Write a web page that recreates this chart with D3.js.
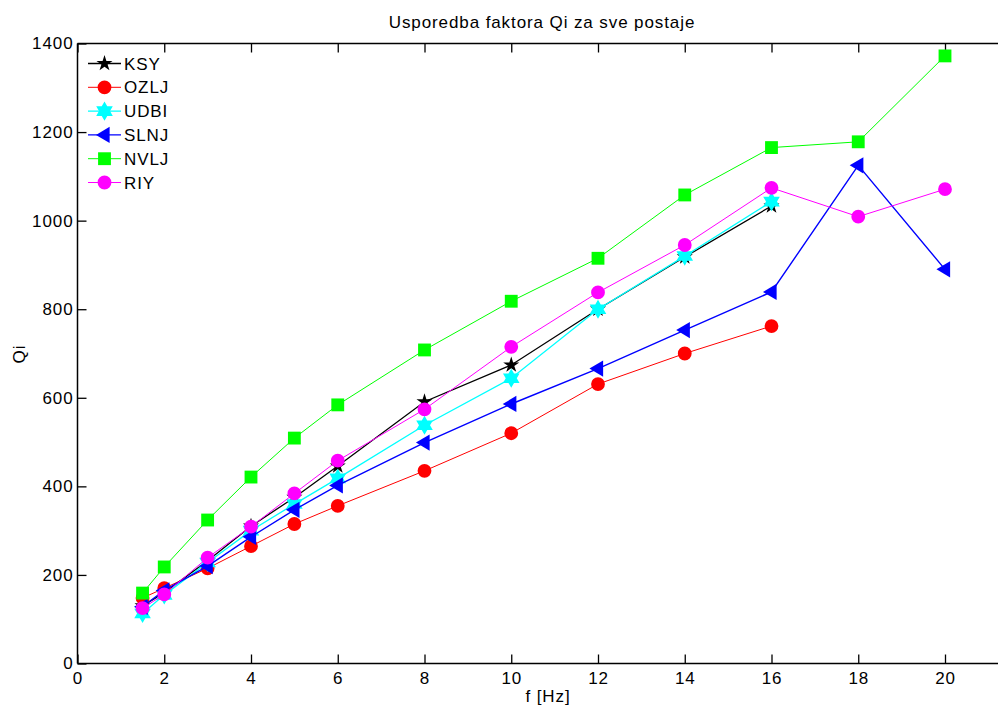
<!DOCTYPE html>
<html><head><meta charset="utf-8">
<script src="https://cdn.jsdelivr.net/npm/d3@7"></script>
<style>
body{margin:0;background:#fff;}
text{font-family:"Liberation Sans",Arial,sans-serif;fill:#000;}
</style></head>
<body><svg id="c" width="998" height="706"></svg>
<script>
const freqs = [1.5, 2, 3, 4, 5, 6, 8, 10, 12, 14, 16, 18, 20];
const KSY  = [130, 160, 232, 310, 375, 446, 591, 674, 800, 918, 1033];
const OZLJ = [148, 170, 215, 265, 315, 356, 435, 520, 631, 700, 762];
const UDBI = [113, 155, 228, 300, 360, 418, 538, 644, 800, 920, 1043];
const SLNJ = [128, 165, 220, 286, 347, 402, 499, 586, 666, 753, 839, 1125, 890];
const NVLJ = [159, 218, 324, 421, 509, 584, 708, 818, 915, 1058, 1165, 1178, 1372];
const RIY  = [125, 156, 239, 309, 384, 458, 574, 715, 838, 945, 1074, 1009, 1071];
const seriesNames = ["KSY", "OZLJ", "UDBI", "SLNJ", "NVLJ", "RIY"];
const seriesColors = ["#000000", "#ff0000", "#00ffff", "#0000ff", "#00ff00", "#ff00ff"];
const xTicks = [0, 2, 4, 6, 8, 10, 12, 14, 16, 18, 20];
const yTicks = [0, 200, 400, 600, 800, 1000, 1200, 1400];
const title = "Usporedba faktora Qi za sve postaje";
const xLabel = "f [Hz]";
const yLabel = "Qi";

const allValues = [KSY, OZLJ, UDBI, SLNJ, NVLJ, RIY];

const svg = d3.select("#c");
const L = 77.5, T = 43.5, B = 663.5;
const unit = (945 - 77.5) / 20;
const x = d3.scaleLinear().domain([0, 22]).range([L, L + 22 * unit]);
const y = d3.scaleLinear().domain([0, 1400]).range([B, T]);
const Rgt = 998;
const FS = 17, LS = "0.9px";

const hexagram = {draw(ctx, size){
  const r = Math.sqrt(size / 1.2);
  const ri = r * 0.577;
  for(let i=0;i<12;i++){
    const a = -Math.PI/2 + i*Math.PI/6;
    const rr = i%2===0 ? r : ri;
    const px = rr*Math.cos(a), py = rr*Math.sin(a);
    if(i===0) ctx.moveTo(px,py); else ctx.lineTo(px,py);
  }
  ctx.closePath();
}};
const triLeft = {draw(ctx, size){
  const r = Math.sqrt(size / 1.3);
  ctx.moveTo(-r, 0);
  ctx.lineTo(r*0.6, -r*0.95);
  ctx.lineTo(r*0.6, r*0.95);
  ctx.closePath();
}};
const symbols = [
  d3.symbol().type(d3.symbolStar).size(80),
  d3.symbol().type(d3.symbolCircle).size(150),
  d3.symbol().type(hexagram).size(110),
  d3.symbol().type(triLeft).size(95),
  d3.symbol().type(d3.symbolSquare).size(165),
  d3.symbol().type(d3.symbolCircle).size(150)
];
const lineWidths = [1.3, 1, 1.3, 1.4, 1, 1];

const g = svg.append("g");
g.append("line").attr("x1", L).attr("x2", Rgt).attr("y1", B).attr("y2", B).attr("stroke","#000").attr("stroke-width",1.5);
g.append("line").attr("x1", L).attr("x2", Rgt).attr("y1", T).attr("y2", T).attr("stroke","#000").attr("stroke-width",1.5);
g.append("line").attr("x1", L).attr("x2", L).attr("y1", T).attr("y2", B).attr("stroke","#000").attr("stroke-width",1.5);

const xAxisB = d3.axisBottom(x).tickValues(xTicks).tickSize(-9).tickFormat(d3.format("d"));
const gx = svg.append("g").attr("transform", `translate(0,${B})`).call(xAxisB);
gx.select(".domain").remove();
gx.selectAll(".tick line").attr("stroke","#000").attr("stroke-width",1.3);
gx.selectAll("text").attr("font-size",FS).attr("letter-spacing",LS).attr("dy","0.36em").attr("y",14);

const xAxisT = d3.axisTop(x).tickValues(xTicks).tickSize(-9).tickFormat("");
const gxt = svg.append("g").attr("transform", `translate(0,${T})`).call(xAxisT);
gxt.select(".domain").remove();
gxt.selectAll(".tick line").attr("stroke","#000").attr("stroke-width",1.3);

const yAxis = d3.axisLeft(y).tickValues(yTicks).tickSize(-9).tickFormat(d3.format("d"));
const gy = svg.append("g").attr("transform", `translate(${L},0)`).call(yAxis);
gy.select(".domain").remove();
gy.selectAll(".tick line").attr("stroke","#000").attr("stroke-width",1.3);
gy.selectAll("text").attr("font-size",FS).attr("letter-spacing",LS).attr("x",-4);

allValues.forEach((vals, i) => {
  const pts = vals.map((v, j) => [freqs[j], v]);
  svg.append("path").datum(pts)
    .attr("fill","none").attr("stroke", seriesColors[i]).attr("stroke-width", lineWidths[i])
    .attr("d", d3.line().x(d => x(d[0])).y(d => y(d[1])));
  svg.append("g").selectAll("path").data(pts).join("path")
    .attr("transform", d => `translate(${x(d[0])},${y(d[1])})`)
    .attr("d", symbols[i]())
    .attr("fill", seriesColors[i]);
});

const lg = svg.append("g");
seriesNames.forEach((n, i) => {
  const yy = 63.5 + i * 23.8;
  lg.append("line").attr("x1", 88).attr("x2", 121).attr("y1", yy).attr("y2", yy)
    .attr("stroke", seriesColors[i]).attr("stroke-width", lineWidths[i]);
  lg.append("path").attr("transform", `translate(104.5,${yy})`).attr("d", symbols[i]()).attr("fill", seriesColors[i]);
  lg.append("text").attr("x", 124).attr("y", yy).attr("dy","0.36em").attr("font-size",FS).attr("letter-spacing",LS).text(n);
});

svg.append("text").attr("x", 542).attr("y", 28).attr("text-anchor","middle").attr("font-size",FS).attr("letter-spacing",LS).text(title);
svg.append("text").attr("x", 548).attr("y", 702).attr("text-anchor","middle").attr("font-size",FS).attr("letter-spacing",LS).text(xLabel);
svg.append("text").attr("transform","translate(25,354) rotate(-90)").attr("text-anchor","middle").attr("font-size",FS).attr("letter-spacing",LS).text(yLabel);
</script></body></html>
